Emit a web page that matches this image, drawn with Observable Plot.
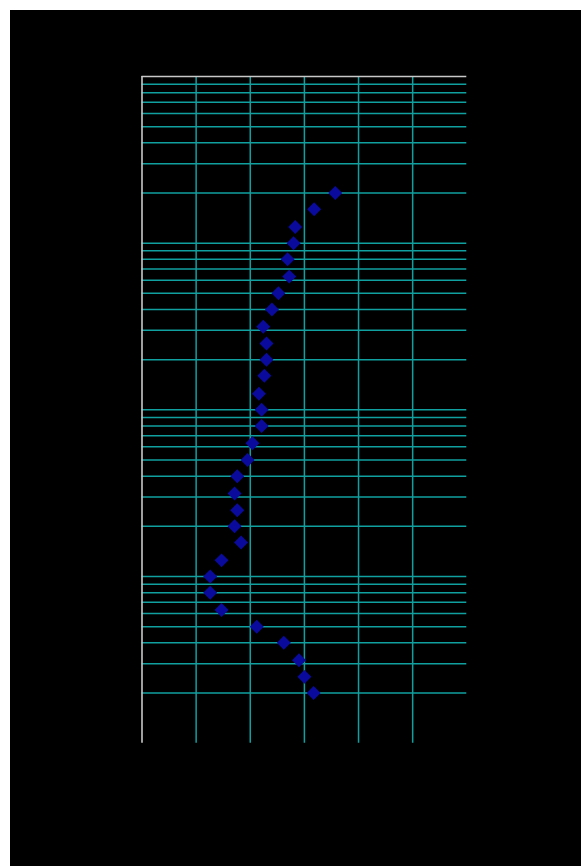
<!DOCTYPE html>
<html>
<head>
<meta charset="utf-8">
<script src="https://cdn.jsdelivr.net/npm/d3@7"></script>
<script src="https://cdn.jsdelivr.net/npm/@observablehq/plot@0.6"></script>
<style>
  html, body { margin: 0; padding: 0; background: #ffffff; }
  #wrap { position: absolute; left: 10px; top: 10px; width: 571px; height: 856px; background: #000; overflow: hidden; }
</style>
</head>
<body>
<div id="wrap"></div>
<script>
// 1/3-octave band centre frequencies (Hz), from 20 kHz at the top to 20 Hz at the bottom
const bands = [20000, 16000, 12500, 10000, 8000, 6300, 5000, 4000, 3150, 2500, 2000,
               1600, 1250, 1000, 800, 630, 500, 400, 315, 250, 200,
               160, 125, 100, 80, 63, 50, 40, 31.5, 25, 20];
// value per band
const values = [3.57, 3.18, 2.83, 2.80, 2.69, 2.72, 2.52, 2.40, 2.24, 2.30, 2.30,
                2.26, 2.16, 2.21, 2.21, 2.04, 1.95, 1.76, 1.71, 1.76, 1.71,
                1.83, 1.47, 1.26, 1.26, 1.47, 2.12, 2.62, 2.90, 3.00, 3.17];
const xTicks = [1, 2, 3, 4, 5];
const xDomain = [0, 6];
const yDomain = [10, 100000];

const data = bands.map((f, i) => ({freq: f, value: values[i]}));
// log-scale gridline values (1..9 × 10^k), without the bottom edge
const yGrid = d3.scaleLog().domain(yDomain).ticks().filter(t => t > yDomain[0] && t < yDomain[1]);

const chart = Plot.plot({
  width: 571,
  height: 856,
  marginLeft: 131.5,
  marginRight: 114.7,
  marginTop: 66,
  marginBottom: 123.3,
  style: {background: "#000"},
  x: {domain: xDomain, axis: null},
  y: {type: "log", domain: yDomain, axis: null},
  marks: [
    Plot.ruleY(yGrid, {stroke: "#10a0a0", strokeWidth: 1.5}),
    Plot.ruleX(xTicks, {stroke: "#10a0a0", strokeWidth: 1.5}),
    Plot.ruleX([xDomain[0]], {stroke: "#c8c8c8", strokeWidth: 1.6}),
    Plot.ruleY([yDomain[1]], {stroke: "#c8c8c8", strokeWidth: 1.6}),
    Plot.dot(data, {x: "value", y: "freq", symbol: "diamond2", r: 6.3, fill: "#0a0a9c", stroke: "none"})
  ]
});
document.getElementById("wrap").appendChild(chart);
</script>
</body>
</html>
